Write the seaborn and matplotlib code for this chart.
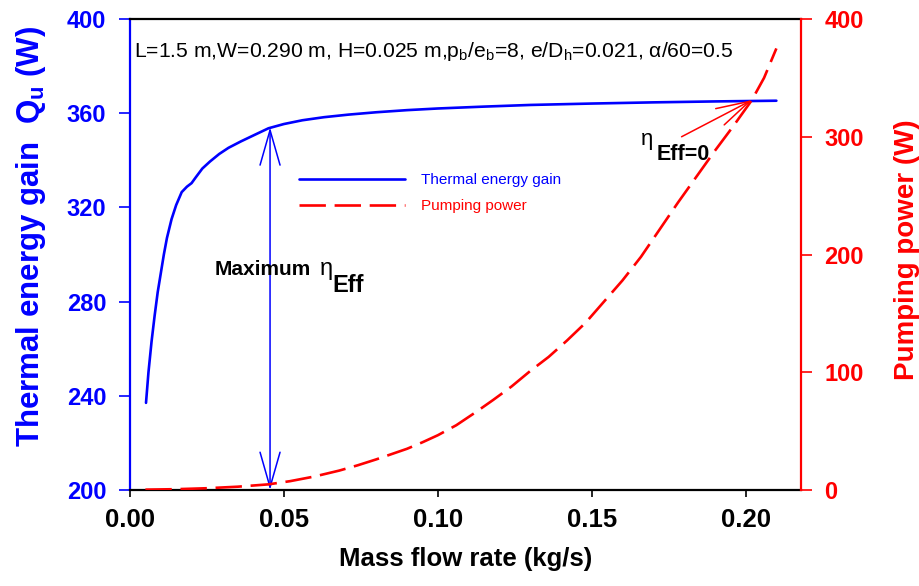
import numpy as np
import pandas as pd
import matplotlib
matplotlib.use("Agg")
import matplotlib.pyplot as plt
import seaborn as sns
from matplotlib.lines import Line2D

# values
mass_flow_q = [0.0052, 0.0060, 0.0070, 0.0080, 0.0090, 0.0100, 0.0110, 0.0120,
               0.0135, 0.0150, 0.0168, 0.0185, 0.0200, 0.0215, 0.0235, 0.026,
               0.029, 0.032, 0.036, 0.040, 0.045, 0.050, 0.056, 0.063,
               0.071, 0.080, 0.090, 0.100, 0.115, 0.130, 0.150, 0.170,
               0.190, 0.210]
heat_gain = [237, 250, 263, 274, 284, 292, 300, 307,
             315, 321, 326.5, 328.8, 330.3, 333, 336.5, 339.5,
             342.7, 345.3, 348, 350.5, 353.6, 355.4, 357, 358.3,
             359.4, 360.4, 361.3, 362, 362.8, 363.5, 364.1, 364.6,
             365, 365.3]

mass_flow_p = [0.005, 0.015, 0.025, 0.035, 0.045, 0.052, 0.060, 0.068,
               0.074, 0.080, 0.085, 0.090, 0.095, 0.100, 0.106, 0.112,
               0.118, 0.124, 0.130, 0.136, 0.142, 0.148, 0.154, 0.160,
               0.166, 0.172, 0.178, 0.184, 0.190, 0.196, 0.202, 0.206,
               0.210]
pump_power = [0.3, 0.7, 1.5, 2.8, 4.8, 7.5, 11.5, 16.5,
              21, 26, 30.5, 35, 40.5, 46.5, 55, 65.5,
              76.5, 88, 101, 113, 127, 142, 160, 178,
              198, 221, 244, 266, 288, 309, 331, 350,
              375]

x_ticks = [0.00, 0.05, 0.10, 0.15, 0.20]
left_ticks = [200, 240, 280, 320, 360, 400]
right_ticks = [0, 100, 200, 300, 400]

max_eff_x = 0.0455
max_eff_q = 354
zero_eff_x = 0.2021
zero_eff_p = 331.2

sns.set_theme(style="white")
plt.rcParams['font.family'] = ['Liberation Sans', 'DejaVu Sans']
plt.rcParams['mathtext.fontset'] = 'custom'
plt.rcParams['mathtext.rm'] = 'Liberation Sans'
plt.rcParams['mathtext.bf'] = 'Liberation Sans:bold'
plt.rcParams['mathtext.it'] = 'Liberation Sans:italic'

df_q = pd.DataFrame({"m": mass_flow_q, "q": heat_gain})
df_p = pd.DataFrame({"m": mass_flow_p, "p": pump_power})

fig = plt.figure(figsize=(9.19, 5.86), dpi=100)
ax = fig.add_axes([130 / 919, 96 / 586, 671 / 919, 471 / 586])
ax2 = ax.twinx()

sns.lineplot(data=df_q, x="m", y="q", ax=ax, color="#0000ff", lw=1.9)
sns.lineplot(data=df_p, x="m", y="p", ax=ax2, color="#ff0000", lw=1.9)
ax2.lines[0].set_dashes((10, 3.3))

ax.set_xlim(0, 0.218)
ax.set_ylim(200, 400)
ax2.set_ylim(0, 400)
ax.set_xticks(x_ticks)
ax.set_xticklabels([f"{v:.2f}" for v in x_ticks])
ax.set_yticks(left_ticks)
ax2.set_yticks(right_ticks)

# spines and ticks
for s in ["top", "bottom"]:
    ax.spines[s].set_color("black")
    ax.spines[s].set_linewidth(1.6)
ax.spines["left"].set_color("#0000ff")
ax.spines["left"].set_linewidth(1.6)
ax2.spines["right"].set_color("#ff0000")
ax2.spines["right"].set_linewidth(1.6)
ax2.spines["left"].set_visible(False)
ax2.spines["top"].set_visible(False)
ax2.spines["bottom"].set_visible(False)

ax.tick_params(axis="x", direction="out", length=5, width=1.2, color="black",
               labelsize=18.5, labelcolor="black", pad=8, bottom=True)
ax.tick_params(axis="y", direction="out", length=8, width=1.2, color="#0000ff",
               labelsize=17, labelcolor="#0000ff", left=True, pad=9)
ax2.tick_params(axis="y", direction="out", length=8, width=1.2, color="#ff0000",
                labelsize=17, labelcolor="#ff0000", right=True, pad=9)
for lab in ax.get_xticklabels() + ax.get_yticklabels() + ax2.get_yticklabels():
    lab.set_fontweight("bold")

ax.set_xlabel("Mass flow rate (kg/s)", fontsize=18.5, fontweight="bold",
              color="black", labelpad=11)
ax.set_ylabel(r"Thermal energy gain  Q$_\mathbf{u}$ (W)", fontsize=22.5,
              fontweight="bold", color="#0000ff")
ax.yaxis.set_label_coords(-0.1225, 0.539)
ax2.set_ylabel("Pumping power (W)", fontsize=20, fontweight="bold",
               color="#ff0000")
ax2.yaxis.set_label_coords(1.139, 0.51)

# legend
handles = [Line2D([], [], color="#0000ff", lw=1.9),
           Line2D([], [], color="#ff0000", lw=1.9, dashes=(10, 3.3))]
leg = ax.legend(handles, ["Thermal energy gain", "Pumping power"],
                loc="upper left", bbox_to_anchor=(0.252, 0.673), frameon=False,
                fontsize=11, handlelength=6.95, handletextpad=1.0,
                labelspacing=0.8, borderpad=0, borderaxespad=0)
for txt, c in zip(leg.get_texts(), ["#0000ff", "#ff0000"]):
    txt.set_color(c)

# annotations
ax.text(0.006, 0.92,
        r"L=1.5 m,W=0.290 m, H=0.025 m,p$_\mathregular{b}$/e$_\mathregular{b}$=8, "
        r"e/D$_\mathregular{h}$=0.021, α/60=0.5",
        transform=ax.transAxes, fontsize=15.2, color="black", ha="left",
        va="baseline")

ax.annotate("", xy=(max_eff_x, max_eff_q), xytext=(max_eff_x, 200),
            arrowprops=dict(arrowstyle="<->,head_length=2.1,head_width=0.6",
                            color="#0000ff", lw=1.1, shrinkA=0, shrinkB=0))
ax.text(0.1267, 0.4565, "Maximum", transform=ax.transAxes, fontsize=15,
        fontweight="bold", color="black", ha="left", va="baseline")
ax.text(0.283, 0.4565, "η", transform=ax.transAxes, fontsize=17,
        color="black", ha="left", va="baseline")
ax.text(0.302, 0.4204, "Eff", transform=ax.transAxes, fontsize=17,
        fontweight="bold", color="black", ha="left", va="baseline")

ax2.annotate("", xy=(zero_eff_x, zero_eff_p), xytext=(0.1792, 300),
             arrowprops=dict(arrowstyle="->,head_length=2.0,head_width=0.55",
                             color="#ff0000", lw=1.1, shrinkA=0, shrinkB=0))
ax2.text(0.7616, 0.7325, "η", transform=ax2.transAxes, fontsize=16,
         color="black", ha="left", va="baseline")
ax2.text(0.7854, 0.7006, "Eff=0", transform=ax2.transAxes, fontsize=15.5,
         fontweight="bold", color="black", ha="left", va="baseline")

fig.savefig("out.png", dpi=100, facecolor="white")
